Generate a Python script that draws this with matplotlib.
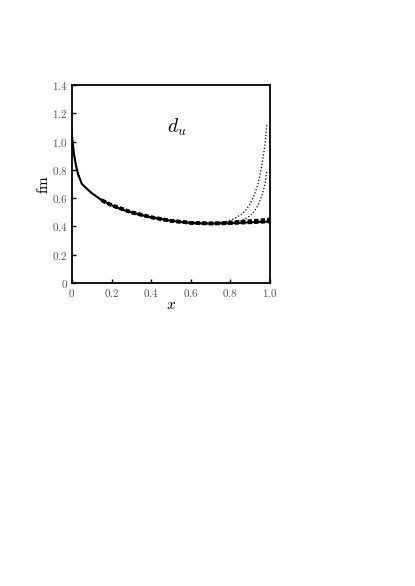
import numpy as np
import matplotlib
matplotlib.use("Agg")
import matplotlib.pyplot as plt

plt.rcParams['mathtext.fontset'] = 'cm'
plt.rcParams['font.family'] = 'serif'
plt.rcParams['font.serif'] = ['DejaVu Serif']

# central curve
x_main = [0.001, 0.005, 0.01, 0.02, 0.03, 0.05, 0.08, 0.10, 0.15, 0.20, 0.25, 0.30,
          0.35, 0.40, 0.45, 0.50, 0.55, 0.60, 0.65, 0.70, 0.75, 0.80, 0.85, 0.90, 0.95, 1.00]
y_main = [1.02, 0.97, 0.91, 0.83, 0.77, 0.70, 0.66, 0.635, 0.585, 0.55, 0.52, 0.50,
          0.48, 0.465, 0.452, 0.44, 0.432, 0.425, 0.421, 0.42, 0.421, 0.423, 0.426, 0.429, 0.432, 0.435]

# thick dashed band, upper edge near x = 1
x_band = [0.15, 0.20, 0.30, 0.40, 0.50, 0.60, 0.70, 0.75, 0.80, 0.85, 0.90, 0.95, 1.00]
y_band_lo = [0.585, 0.55, 0.50, 0.465, 0.44, 0.425, 0.42, 0.421, 0.423, 0.426, 0.429, 0.432, 0.435]
y_band_hi = [0.585, 0.55, 0.50, 0.465, 0.44, 0.426, 0.422, 0.424, 0.428, 0.433, 0.438, 0.443, 0.45]

# dotted curves that blow up near x = 1
x_dot1 = [0.0, 0.005, 0.01, 0.02, 0.05, 0.10, 0.20, 0.30, 0.40, 0.50, 0.60, 0.70, 0.75,
          0.78, 0.82, 0.86, 0.88, 0.90, 0.92, 0.94, 0.96, 0.975, 0.985]
y_dot1 = [1.10, 1.00, 0.93, 0.84, 0.70, 0.635, 0.55, 0.50, 0.465, 0.44, 0.425, 0.422, 0.428,
          0.435, 0.455, 0.49, 0.52, 0.56, 0.62, 0.70, 0.84, 0.98, 1.13]
x_dot2 = [0.70, 0.80, 0.84, 0.87, 0.90, 0.92, 0.94, 0.96, 0.975, 0.985]
y_dot2 = [0.42, 0.424, 0.433, 0.45, 0.475, 0.505, 0.55, 0.62, 0.70, 0.80]

fig = plt.figure(figsize=(4.15, 5.86), dpi=100)
ax = fig.add_axes([0.1735, 0.517, 0.477, 0.338])

ax.plot(x_dot1, y_dot1, color='black', lw=0.9, linestyle=(0, (1, 1.6)))
ax.plot(x_dot2, y_dot2, color='black', lw=0.9, linestyle=(0, (1, 1.6)))
ax.plot(x_band, y_band_lo, color='black', lw=2.6, linestyle=(0, (1.2, 0.6)))
ax.plot(x_band, y_band_hi, color='black', lw=2.6, linestyle=(0, (1.2, 0.6)))
ax.plot(x_main, y_main, color='black', lw=1.5)

ax.set_xlim(0, 1.0)
ax.set_ylim(0, 1.4)
xt = [0, 0.2, 0.4, 0.6, 0.8, 1.0]
yt = [0, 0.2, 0.4, 0.6, 0.8, 1.0, 1.2, 1.4]
ax.set_xticks(xt)
ax.set_yticks(yt)
ax.set_xticklabels(['$0$', '$0.2$', '$0.4$', '$0.6$', '$0.8$', '$1.0$'], color='#555555', fontsize=8)
ax.set_yticklabels(['$0$', '$0.2$', '$0.4$', '$0.6$', '$0.8$', '$1.0$', '$1.2$', '$1.4$'],
                   color='#555555', fontsize=8)
ax.tick_params(direction='in', length=3, width=1, pad=3)
for s in ax.spines.values():
    s.set_linewidth(1.3)

ax.set_xlabel('$x$', fontsize=11, labelpad=-1)
ax.set_ylabel(r'$\mathrm{fm}$', fontsize=11, labelpad=1)
ax.text(0.53, 1.10, '$d_u$', fontsize=14, ha='center', va='center')

plt.savefig('out.png', dpi=100)
